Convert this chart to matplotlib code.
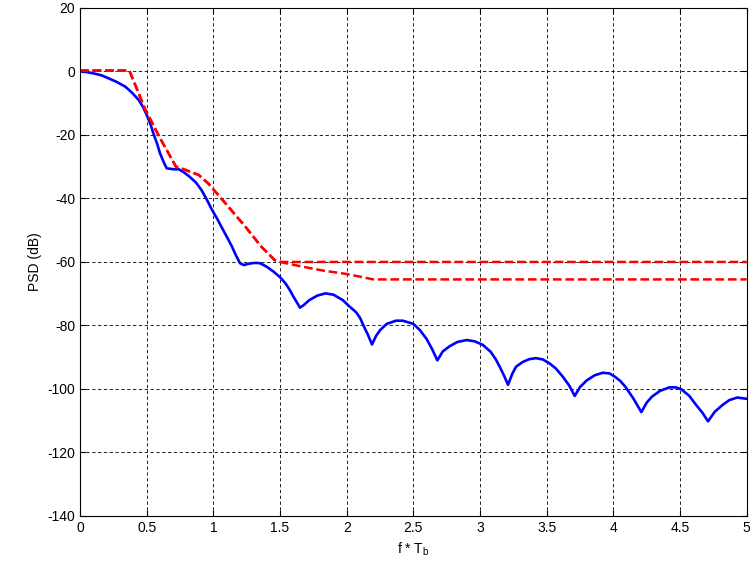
import numpy as np
import matplotlib
matplotlib.use("Agg")
import matplotlib.pyplot as plt

plt.rcParams['font.family'] = ['Liberation Sans', 'DejaVu Sans']
plt.rcParams['mathtext.default'] = 'regular'
plt.rcParams['axes.unicode_minus'] = False

# PSD of the modulated signal (dB) vs normalized frequency
f_psd = [0, 0.05, 0.1, 0.16, 0.21, 0.27, 0.34, 0.39, 0.44, 0.47, 0.5, 0.53,
         0.55, 0.58, 0.6, 0.63, 0.65, 0.7, 0.74, 0.78, 0.82, 0.87, 0.91, 0.95,
         0.99, 1.03, 1.06, 1.10, 1.14, 1.17, 1.2, 1.23, 1.26, 1.29, 1.32, 1.35,
         1.40, 1.45, 1.50, 1.54, 1.57, 1.60, 1.65, 1.68, 1.72, 1.78, 1.84, 1.90,
         1.97, 2.02, 2.07, 2.10, 2.13, 2.16, 2.19, 2.22, 2.25, 2.30, 2.37, 2.42,
         2.50, 2.55, 2.60, 2.64, 2.68, 2.72, 2.77, 2.83, 2.90, 2.96, 3.02, 3.08,
         3.12, 3.15, 3.18, 3.21, 3.24, 3.27, 3.32, 3.37, 3.42, 3.47, 3.52, 3.57,
         3.62, 3.67, 3.71, 3.75, 3.80, 3.86, 3.92, 3.97, 4.01, 4.05, 4.09, 4.15,
         4.21, 4.25, 4.29, 4.35, 4.42, 4.47, 4.51, 4.57, 4.62, 4.67, 4.71, 4.76,
         4.82, 4.87, 4.93, 5.0]
psd = [0, -0.2, -0.6, -1.2, -2.1, -3.2, -4.8, -6.7, -9.0, -11.0, -13.7, -16.8,
       -19.5, -23.0, -25.8, -28.8, -30.5, -30.8, -30.8, -31.8, -33.1, -35.0,
       -37.3, -40.3, -43.6, -46.5, -48.9, -52.0, -55.2, -58.0, -60.4, -61.0,
       -60.6, -60.4, -60.3, -60.4, -61.5, -63.0, -64.8, -66.7, -68.6, -70.9,
       -74.4, -73.5, -72.0, -70.6, -69.9, -70.3, -72.0, -74.0, -75.8, -77.6,
       -80.4, -83.0, -86.0, -83.3, -81.5, -79.5, -78.5, -78.5, -79.5, -81.5,
       -84.3, -87.4, -91.0, -88.2, -86.6, -85.2, -84.6, -85.0, -86.1, -88.3,
       -90.8, -93.2, -95.8, -98.7, -95.4, -93.0, -91.5, -90.6, -90.3, -90.7,
       -91.9, -93.6, -96.1, -99.0, -102.2, -99.4, -97.3, -95.7, -94.9, -95.1,
       -96.1, -97.4, -99.3, -103.0, -107.3, -104.3, -102.4, -100.6, -99.5,
       -99.5, -100.1, -102.2, -105.0, -107.6, -110.2, -107.2, -105.0, -103.5,
       -102.7, -103.1]

# spectral masks (dB)
f_mask1 = [0, 0.37, 0.49, 0.6, 0.72, 0.79, 0.89, 0.96, 1.09, 1.24, 1.36, 1.46, 1.5, 5.0]
mask1 = [0.3, 0.3, -12.1, -21.0, -30.0, -31.0, -32.6, -35.2, -41.5, -48.9, -55.2, -59.4, -60.0, -60.0]
f_mask2 = [0, 0.37, 0.49, 0.6, 0.72, 0.79, 0.89, 0.96, 1.09, 1.24, 1.36, 1.46, 1.5,
           1.67, 1.82, 2.0, 2.2, 5.0]
mask2 = [0.3, 0.3, -12.1, -21.0, -30.0, -31.0, -32.6, -35.2, -41.5, -48.9, -55.2, -59.4, -60.0,
         -61.5, -62.7, -63.8, -65.5, -65.5]

fig = plt.figure(figsize=(7.55, 5.67), dpi=100)
ax = fig.add_axes([0.106, 0.09, 0.883, 0.896])

ax.plot(f_psd, psd, color='#0000ff', linewidth=1.9)
ax.plot(f_mask2, mask2, '--', color='#ff0000', linewidth=1.8, dashes=(3.5, 1.5))
ax.plot(f_mask1, mask1, '--', color='#ff0000', linewidth=1.8, dashes=(3.5, 1.5))

ax.set_xlim(0, 5)
ax.set_ylim(-140, 20)
ax.set_xticks(np.arange(0, 5.01, 0.5))
ax.set_xticklabels(['0', '0.5', '1', '1.5', '2', '2.5', '3', '3.5', '4', '4.5', '5'])
ax.set_yticks(np.arange(-140, 21, 20))
ax.grid(True, color='black', linestyle=(0, (4, 3)), linewidth=0.6)
ax.tick_params(direction='in', top=True, right=True, length=4, labelsize=10)
for s in ax.spines.values():
    s.set_linewidth(0.8)

ax.set_xlabel('f * T$_b$', fontsize=10)
ax.set_ylabel('PSD (dB)', fontsize=10)

fig.savefig('out.png', dpi=100)
